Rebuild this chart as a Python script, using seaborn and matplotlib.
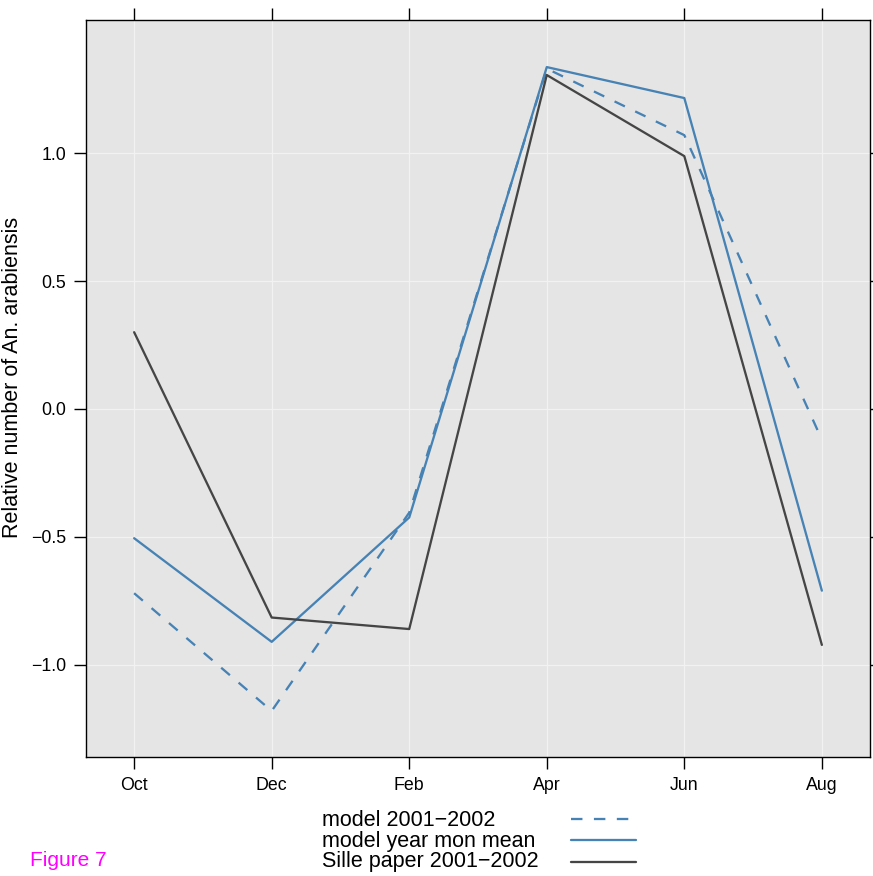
import matplotlib
matplotlib.use("Agg")
import matplotlib.pyplot as plt
from matplotlib.lines import Line2D
import seaborn as sns
import pandas as pd

months = ["Oct", "Dec", "Feb", "Apr", "Jun", "Aug"]
model_2001_2002 = [-0.72, -1.18, -0.405, 1.33, 1.07, -0.12]
model_year_mon_mean = [-0.505, -0.91, -0.424, 1.336, 1.215, -0.71]
sille_paper = [0.30, -0.815, -0.86, 1.305, 0.988, -0.922]

series_names = ["model 2001\u22122002", "model year mon mean", "Sille paper 2001\u22122002"]
series_values = [model_2001_2002, model_year_mon_mean, sille_paper]
series_colors = ["#4682b4", "#4682b4", "#454545"]
series_styles = [(0, (5, 5)), "-", "-"]

rows = []
for name, vals in zip(series_names, series_values):
    for i, (m, v) in enumerate(zip(months, vals)):
        rows.append({"series": name, "pos": i, "month": m, "value": v})
df = pd.DataFrame(rows)

sns.set_style("white")
plt.rcParams["font.family"] = ["Liberation Sans", "DejaVu Sans"]

W, H = 873, 876
fig = plt.figure(figsize=(W / 100, H / 100), dpi=100)
L, R, T, B = 86, 870, 20, 757
ax = fig.add_axes([L / W, 1 - B / H, (R - L) / W, (B - T) / H])
ax.set_facecolor("#e5e5e5")

LW = 1.65
for name, color, ls in zip(series_names, series_colors, series_styles):
    sub = df[df["series"] == name]
    sns.lineplot(data=sub, x="pos", y="value", ax=ax, color=color,
                 linewidth=LW, legend=False, sort=False, zorder=3)
    ax.lines[-1].set_linestyle(ls)

ax.set_xlim(-0.35, 5.35)
ax.set_ylim(-1.36, 1.52)
ax.set_xticks(range(len(months)))
ax.set_xticklabels(months)
ax.set_yticks([-1.0, -0.5, 0.0, 0.5, 1.0])
ax.grid(True, color="#f2f2f2", linewidth=0.9, zorder=0)
ax.set_axisbelow(True)

for s in ax.spines.values():
    s.set_visible(True)
    s.set_color("black")
    s.set_linewidth(1.0)

ax.tick_params(axis="both", which="both", direction="out", length=8.6, width=1.0,
               color="black", labelsize=12.8, labelcolor="black", pad=5.5,
               top=True, right=True, bottom=True, left=True,
               labeltop=False, labelright=False)

ax.set_xlabel("")
ax.set_ylabel("")
fig.text(13 / W, 1 - 377 / H, "Relative number of An. arabiensis", fontsize=15.5,
         color="black", rotation=90, ha="center", va="center")

# legend (drawn manually: text left-aligned, sample line to the right)
text_x = 321.5
baselines = [826.5, 847.0, 867.5]
line_ys = [819.0, 840.0, 861.5]
for name, color, ls, yb, yl in zip(series_names, series_colors, series_styles,
                                   baselines, line_ys):
    fig.text(text_x / W, 1 - yb / H, name, fontsize=15.5, color="black",
             ha="left", va="baseline")
    fig.add_artist(Line2D([571 / W, 636 / W], [1 - yl / H, 1 - yl / H],
                          transform=fig.transFigure, color=color,
                          linewidth=LW, linestyle=ls))

fig.text(30 / W, 1 - 866 / H, "Figure 7", color="#ff00ff", fontsize=15,
         ha="left", va="baseline")

fig.savefig("out.png", dpi=100)
